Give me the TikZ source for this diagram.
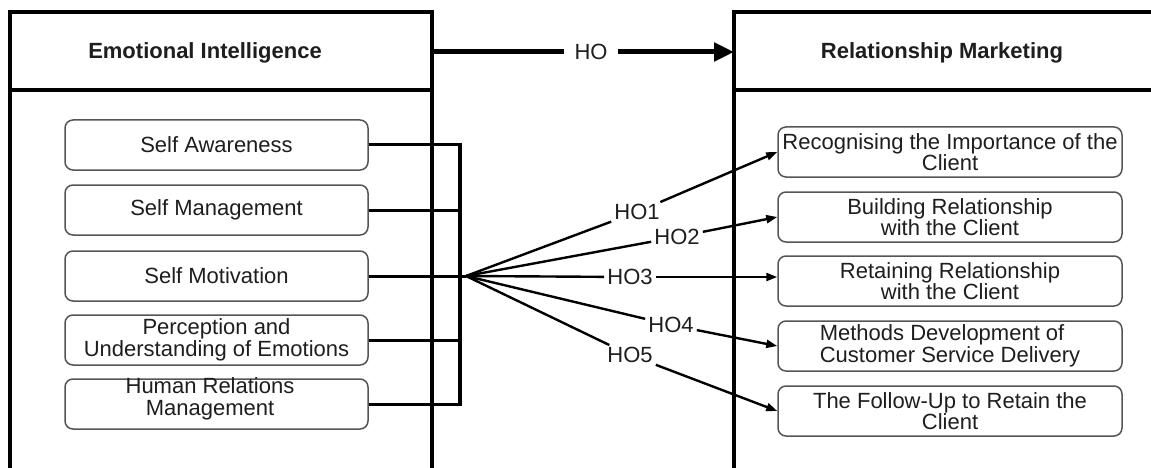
\documentclass[tikz,border=0pt]{standalone}
\usepackage{fontspec}
\setmainfont{Liberation Sans}
\usetikzlibrary{arrows.meta}
\definecolor{txt}{HTML}{1E1E1E}
\definecolor{boxc}{HTML}{555555}
\begin{document}
\begin{tikzpicture}[x=1pt,y=-1pt,
  every node/.style={font=\fontsize{22}{21.5}\selectfont, text=txt},
  frame/.style={line width=3.2pt, draw=black},
  lbox/.style={draw=boxc, line width=1.5pt, rounded corners=8pt, minimum width=303pt, minimum height=50pt, align=center, inner sep=0pt},
  rbox/.style={draw=boxc, line width=1.5pt, rounded corners=8pt, minimum width=344pt, minimum height=50pt, align=center, inner sep=0pt},
  title/.style={font=\fontsize{22}{21}\selectfont\bfseries},
  busline/.style={line width=3pt, draw=black},
  fan/.style={line width=2.4pt, draw=black},
  fanarrow/.style={line width=2.4pt, draw=black, -{Triangle[length=11pt,width=8pt]}},
  hol/.style={inner xsep=3pt, inner ysep=2pt},
]
\useasboundingbox (0,0) rectangle (1151,468);
\fill[white] (0,0) rectangle (1151,468);

% frames
\draw[frame] (10,468) -- (10,12) -- (432,12) -- (432,468);
\draw[frame] (10,90) -- (432,90);
\draw[frame] (1151,12) -- (734,12) -- (734,468);
\draw[frame] (734,90) -- (1151,90);

\node[title] (eit) at (205,53) {Emotional Intelligence};
\node[title] (rmt) at (942,53) {Relationship Marketing};

% main arrow
\coordinate (eir) at (432,52);
\coordinate (rml) at (734,52);
\node[inner xsep=10pt] (ho) at (591,52) {HO};
\draw[line width=5pt] (eir) -- (ho);
\draw[line width=5pt, -{Triangle[length=20pt,width=18pt]}] (ho) -- (rml);

% left boxes
\node[lbox] (b1) at (216.5,145) {Self Awareness};
\node[lbox] (b2) at (216.5,210) {Self Management};
\node[lbox] (b3) at (216.5,276) {Self Motivation};
\node[lbox] (b4) at (216.5,340) {Perception and\\Understanding of Emotions};
\node[lbox] (b5) at (216.5,404) {};
\node[align=center, inner sep=0pt] (b5t) at (210,399) {Human Relations\\Management};

% bus
\coordinate (busx) at (460,0);
\coordinate (hub) at (466,276);
\draw[busline] (b1.east) -- (b1.east -| busx);
\draw[busline] (b2.east) -- (b2.east -| busx);
\draw[busline] (b4.east) -- (b4.east -| busx);
\draw[busline] (b5.east) -- (b5.east -| busx);
\draw[line width=3.4pt] ([yshift=1.5pt]b1.east -| busx) -- ([yshift=-1.5pt]b5.east -| busx);
\draw[busline] (b3.east) -- (hub);

% right boxes
\node[rbox] (r1) at (950,152) {Recognising the Importance of the\\Client};
\node[rbox] (r2) at (950,217) {Building Relationship\\with the Client};
\node[rbox] (r3) at (950,281) {Retaining Relationship\\with the Client};
\node[rbox, align=left] (r4) at (950,346) {Methods Development of\\Customer Service Delivery};
\node[rbox] (r5) at (950,411) {The Follow-Up to Retain the\\Client};

% fan labels
\node[hol] (h1) at (637,212) {HO1};
\node[hol] (h2) at (677,237) {HO2};
\node[hol] (h3) at (630,277) {HO3};
\node[hol] (h4) at (671,325) {HO4};
\node[hol] (h5) at (630,355) {HO5};

\draw[fan] (hub) -- (h1);
\draw[fanarrow] (h1) -- (r1.west);
\draw[fan] (hub) -- (h2);
\draw[fanarrow] (h2) -- (r2.west);
\draw[fan] (hub) -- (h3);
\draw[fanarrow] (h3) -- (h3 -| r3.west);
\draw[fan] (hub) -- (h4);
\draw[fanarrow] (h4) -- (r4.west);
\draw[fan] (hub) -- (h5);
\draw[fanarrow] (h5) -- (r5.west);
\end{tikzpicture}
\end{document}
